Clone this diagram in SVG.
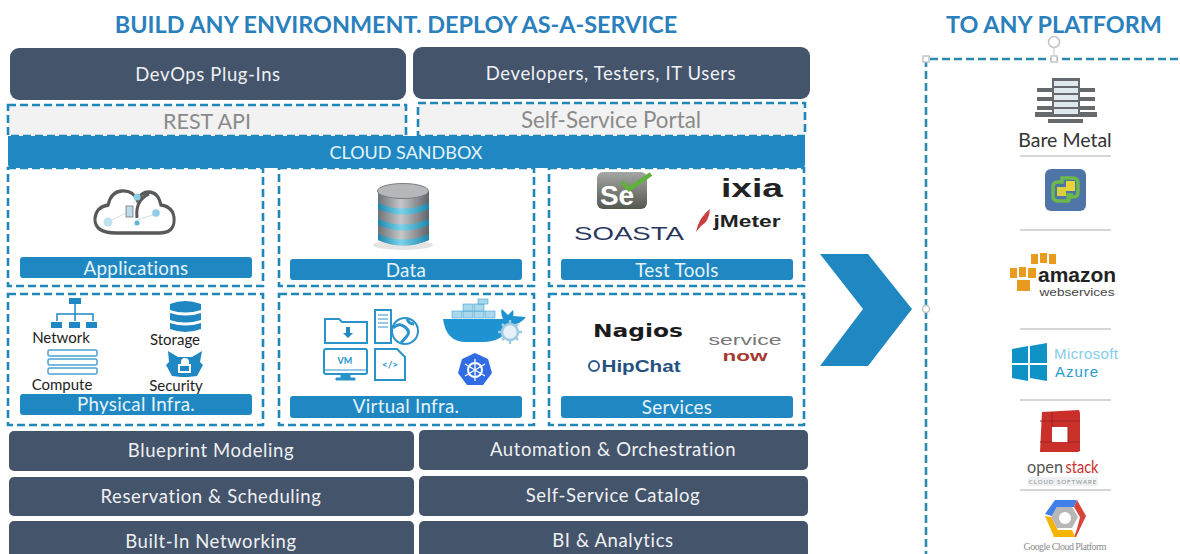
<svg xmlns="http://www.w3.org/2000/svg" width="1180" height="554" viewBox="0 0 1180 554">
<defs>
<linearGradient id="metal" x1="0" x2="1" y1="0" y2="0"><stop offset="0" stop-color="#6d7276"/><stop offset=".45" stop-color="#c4c7c9"/><stop offset="1" stop-color="#5f6468"/></linearGradient>
<linearGradient id="band" x1="0" x2="1" y1="0" y2="0"><stop offset="0" stop-color="#1d86ad"/><stop offset=".45" stop-color="#7bd3ea"/><stop offset="1" stop-color="#1d86ad"/></linearGradient>
<linearGradient id="sel" x1="0" x2="0" y1="0" y2="1"><stop offset="0" stop-color="#a3a6a2"/><stop offset="1" stop-color="#55584f"/></linearGradient>
</defs>
<style>
text{font-family:"Lato","Open Sans","Liberation Sans",sans-serif;text-anchor:middle}
text.ls{font-family:"Liberation Sans",Arial,sans-serif}
text.dv{font-family:"DejaVu Sans",sans-serif}
text.se{font-family:"Liberation Serif",serif}
text.st{text-anchor:start}
.dark{fill:#44546a}
.dt{fill:#eef0f3;font-size:18.5px;letter-spacing:.6px}
.blue{fill:#1f88c2}
.lt{fill:#e6f3fa;font-size:18.8px;letter-spacing:.3px}
.dash{fill:none;stroke:#1f88b8;stroke-width:2.6;stroke-dasharray:8 4}
.head{fill:#2a7fbd;font-weight:700;font-size:23.4px}
.k{fill:#1d1d1d;font-size:15px}
.ic{fill:#1f88c2}
.icl{fill:none;stroke:#2a93cc;stroke-width:2}
.rule{stroke:#c9c9c9;stroke-width:1.3}
.hd{fill:#fff;stroke:#c4c4c4;stroke-width:1.5}
</style>
<rect width="1180" height="554" fill="#fff"/>
<text class="head" x="396" y="33">BUILD ANY ENVIRONMENT. DEPLOY AS-A-SERVICE</text>
<text class="head" x="1054" y="33">TO ANY PLATFORM</text>

<g id="devops"><rect class="dark" x="10" y="48" width="396" height="52" rx="9"/><text class="dt" x="208" y="81">DevOps Plug-Ins</text></g>
<g id="users"><rect class="dark" x="413" y="47" width="397" height="52" rx="9"/><text class="dt" x="611" y="80">Developers, Testers, IT Users</text></g>
<g id="rest-api"><rect x="8" y="105" width="398" height="31" fill="#f2f2f2"/><rect class="dash" x="8" y="105" width="398" height="31"/><text x="207" y="129" fill="#8a8a8a" font-size="21.5">REST API</text></g>
<g id="portal"><rect x="418" y="103" width="387" height="33" fill="#f2f2f2"/><rect class="dash" x="418" y="103" width="387" height="33"/><text x="611" y="128" fill="#8a8a8a" font-size="22.4">Self-Service Portal</text></g>

<g id="applications">
<rect class="dash" x="8" y="168" width="255" height="118"/>
<path transform="translate(21 0) scale(.88 1)" d="M108 233h49q17 0 17-13 0-13-15-15-3-13-14-13-8 0-13 8-5-10-18-9-12 1-15 14-14 2-15 14 0 14 24 14z" fill="none" stroke="#58595b" stroke-width="3.400"/>
<path d="M137 218q-2-18 12-24" fill="none" stroke="#58595b" stroke-width="3"/>
<rect x="126" y="206" width="7" height="11" fill="#bcdcec" stroke="#777" stroke-width=".8"/>
<path d="M108 222l18-9M134 203l3-6M137 220l19-6" stroke="#c9d6dc" stroke-width=".8"/>
<circle cx="108" cy="222" r="4.500" fill="#bfe0ef"/><circle cx="156" cy="213" r="3.800" fill="#8fcde6"/><circle cx="137" cy="197" r="3.500" fill="#8fcde6"/><circle cx="137" cy="223" r="2.500" fill="#5fb6d3"/>
<rect class="blue" x="20" y="257" width="232" height="21" rx="3"/><text class="lt" x="136" y="275">Applications</text>
</g>
<g id="data">
<rect class="dash" x="279" y="168" width="255" height="118"/>
<ellipse cx="403" cy="245" rx="30" ry="5" fill="#e4e4e4"/>
<path d="M378 191v49q25 11 51 0v-49z" fill="url(#metal)"/>
<path d="M378 203q25 11 51 0v6q-25 11-51 0zM378 219q25 11 51 0v6q-25 11-51 0zM378 234q25 11 51 0v6q-25 11-51 0z" fill="url(#band)"/>
<ellipse cx="403" cy="191" rx="25.500" ry="7.500" fill="#b5b8bb" stroke="#7b7f83"/>
<rect class="blue" x="290" y="259" width="232" height="21" rx="3"/><text class="lt" x="406" y="277">Data</text>
</g>
<g id="test-tools">
<rect class="dash" x="549" y="168" width="255" height="118"/>
<rect x="597" y="172" width="50" height="37" rx="6" fill="url(#sel)"/>
<text class="ls" x="617" y="205" fill="#fff" font-size="28" font-weight="700">Se</text>
<path d="M622 182l7 7 22-15" fill="none" stroke="#5fb13c" stroke-width="4.500"/>
<text class="ls" x="752" y="197" fill="#222" font-size="26" font-weight="700" textLength="62" lengthAdjust="spacingAndGlyphs">ixia</text>
<text class="ls" x="629" y="240" fill="#27375e" font-size="18" textLength="110" lengthAdjust="spacingAndGlyphs">SOASTA</text>
<path d="M696 232q3-15 14-23-1 13-9 17z" fill="#c8403f"/>
<text class="ls" x="747" y="227" fill="#222" font-size="17" font-weight="700" textLength="67" lengthAdjust="spacingAndGlyphs">jMeter</text>
<rect class="blue" x="561" y="259" width="232" height="21" rx="3"/><text class="lt" x="677" y="277">Test Tools</text>
</g>
<g id="physical">
<rect class="dash" x="8" y="294" width="255" height="131"/>
<rect class="ic" x="69" y="298" width="12" height="6"/>
<path d="M75 304v10M57 321v-7h36v7M75 314v7" fill="none" stroke="#1f88c2" stroke-width="1.500"/>
<rect class="ic" x="51" y="322" width="11" height="6"/><rect class="ic" x="69" y="322" width="11" height="6"/><rect class="ic" x="86" y="322" width="11" height="6"/>
<text class="k" x="61" y="343">Network</text>
<path d="M170 304q15-6 31 0v6q-16 5-31 0zM170 313q16 5 31 0v7q-16 5-31 0zM170 323q16 5 31 0v6q-16 6-31 0z" class="ic"/>
<text class="k" x="175" y="345">Storage</text>
<g fill="#fff" stroke="#4aa3d2" stroke-width="1.500"><rect x="48" y="350" width="49" height="6" rx="1.500"/><rect x="48" y="359" width="49" height="6" rx="1.500"/><rect x="48" y="368" width="49" height="6" rx="1.500"/></g>
<text class="k" x="62" y="390">Compute</text>
<path d="M168 351l10 6h14l10-6-2 11 3 3-6 11-9 1h-7l-9-1-6-11 3-3z" class="ic"/><path d="M185 358a4 4 0 0 1 4 4v2h2v9h-13v-9h3v-2a4 4 0 0 1 4-4z" fill="#fff"/><rect x="180" y="366" width="9" height="5" class="ic"/>
<text class="k" x="176" y="391">Security</text>
<rect class="blue" x="20" y="394" width="232" height="21" rx="3"/><text class="lt" x="136" y="411">Physical Infra.</text>
</g>
<g id="virtual">
<rect class="dash" x="279" y="294" width="255" height="131"/>
<path class="icl" d="M325 343v-24h14l3 3h25v21z"/><path d="M346 327v6h-3l5 5 5-5h-3v-6z" class="ic"/>
<rect class="icl" x="375" y="310" width="16" height="33"/><path d="M378 315h10M378 319h10M378 323h10M378 327h10" stroke="#2a93cc"/>
<circle cx="405" cy="331" r="13" fill="#fff" stroke="#2a93cc" stroke-width="2"/><path d="M393 328q6-6 12-1t2 9l-6 7M407 319q2 5 7 5" fill="none" stroke="#2a93cc" stroke-width="3"/>
<rect class="icl" x="324" y="349" width="43" height="25" rx="2"/><path d="M324 370h43M341 375h9v3h5v2h-19v-2h5z" fill="#2a93cc" stroke="#2a93cc"/><text x="345" y="364" fill="#2a93cc" font-size="9" font-weight="700">VM</text>
<path class="icl" d="M375 349h22l8 8v23h-30z"/><text x="390" y="368" fill="#2a93cc" font-size="10" font-weight="700">&lt;/&gt;</text>
<g fill="#a9d7ec" stroke="#2a93cc" stroke-width=".5"><rect x="452" y="311" width="10" height="7"/><rect x="463" y="311" width="10" height="7"/><rect x="474" y="311" width="10" height="7"/><rect x="485" y="311" width="10" height="7"/><rect x="463" y="304" width="10" height="7"/><rect x="474" y="304" width="10" height="7"/><rect x="478" y="299" width="10" height="5"/></g>
<path d="M443 319h60q-3-7-1-10l6 6 5-5q1 4 0 6l13 1q-5 7-15 8-8 17-28 17h-17q-20 0-23-23z" fill="#1f93d2"/>
<g fill="#e6f1f7" stroke="#9ecbe3" stroke-width="2.500"><circle cx="510" cy="332" r="8"/><path d="M510 320v4M510 340v4M498 332h4M518 332h4M502 324l3 3M515 337l3 3M518 324l-3 3M505 337l-3 3" fill="none"/></g>
<path d="M475 353l13 6 4 14-9 12h-16l-9-12 4-14z" fill="#326ce5"/><circle cx="475" cy="370" r="7" fill="none" stroke="#fff" stroke-width="2"/><path d="M475 359v22M465 364l20 12M485 364l-20 12" stroke="#fff" stroke-width="1.300"/>
<rect class="blue" x="290" y="396" width="232" height="22" rx="3"/><text class="lt" x="406" y="413">Virtual Infra.</text>
</g>
<g id="services">
<rect class="dash" x="549" y="294" width="255" height="131"/>
<text class="dv" x="638" y="337" fill="#1b1b1b" font-size="18" font-weight="700" textLength="90" lengthAdjust="spacingAndGlyphs">Nagios</text>
<text class="ls" x="745" y="345" fill="#777" font-size="14" textLength="73" lengthAdjust="spacingAndGlyphs">service</text>
<text class="ls" x="745" y="361" fill="#a63a32" font-size="14" font-weight="700" textLength="45" lengthAdjust="spacingAndGlyphs">now</text>
<circle cx="594" cy="366" r="5" fill="none" stroke="#2a5a8c" stroke-width="2"/>
<text class="ls" x="641" y="372" fill="#24517f" font-size="16.500" font-weight="700" textLength="79" lengthAdjust="spacingAndGlyphs">HipChat</text>
<rect class="blue" x="561" y="396" width="232" height="22" rx="3"/><text class="lt" x="677" y="414">Services</text>
</g>
<g id="sandbox"><path class="blue" d="M8 136h797v28q0 4-4 4H12q-4 0-4-4z"/><text x="406" y="159" fill="#e6f3fa" font-size="18">CLOUD SANDBOX</text></g>

<g id="blueprint"><rect class="dark" x="9" y="431" width="405" height="40" rx="5"/><text class="dt" x="211" y="457">Blueprint Modeling</text></g>
<g id="automation"><rect class="dark" x="419" y="430" width="389" height="40" rx="5"/><text class="dt" x="613" y="456">Automation &amp; Orchestration</text></g>
<g id="reservation"><rect class="dark" x="9" y="477" width="405" height="39" rx="5"/><text class="dt" x="211" y="503">Reservation &amp; Scheduling</text></g>
<g id="catalog"><rect class="dark" x="419" y="476" width="389" height="40" rx="5"/><text class="dt" x="613" y="502">Self-Service Catalog</text></g>
<g id="networking"><rect class="dark" x="9" y="521" width="405" height="40" rx="5"/><text class="dt" x="211" y="548">Built-In Networking</text></g>
<g id="analytics"><rect class="dark" x="419" y="521" width="389" height="40" rx="5"/><text class="dt" x="613" y="547">BI &amp; Analytics</text></g>

<g id="connectors"><path class="blue" d="M820 254h48l44 55-44 57h-48l43-57z"/></g>

<g id="platforms">
<path d="M1190 59H926V560" fill="none" stroke="#2a8ab0" stroke-width="2.600" stroke-dasharray="8 4"/>
<path d="M1054 59V48" stroke="#c4c4c4"/><circle cx="1054" cy="42" r="5.500" fill="#fff" stroke="#c4c4c4" stroke-width="1.500"/>
<rect class="hd" x="923" y="56" width="6" height="6"/><rect class="hd" x="1051" y="56" width="6" height="6"/><circle class="hd" cx="926" cy="309" r="3.500"/>
<g id="bare-metal">
<g fill="#666a6e"><rect x="1037" y="88" width="15" height="4"/><rect x="1080" y="88" width="15" height="4"/><rect x="1037" y="97" width="15" height="4"/><rect x="1080" y="97" width="15" height="4"/><rect x="1037" y="106" width="15" height="4"/><rect x="1080" y="106" width="15" height="4"/><rect x="1035" y="112" width="62" height="5"/><rect x="1048" y="119" width="35" height="4"/><rect x="1052" y="78" width="28" height="38"/></g>
<g fill="#dfe8ec"><rect x="1054" y="81" width="24" height="5"/><rect x="1054" y="88" width="24" height="5"/><rect x="1054" y="95" width="24" height="5"/><rect x="1054" y="102" width="24" height="5"/><rect x="1054" y="109" width="24" height="5"/></g>
<text x="1065" y="147" fill="#333" font-size="19.500">Bare Metal</text>
</g>
<path class="rule" d="M1020 156h91M1020 230h91M1020 329h91M1020 400h91M1020 490h91"/>
<g id="vmware">
<rect x="1045" y="169" width="41" height="42" rx="6" fill="#4f74a8"/>
<path d="M1058 201h10v-6h5M1058 201q-5 0-5-5v-9q0-5 5-5h4v-4h11q5 0 5 5v9q0 5-5 5h-4v4" fill="none" stroke="#6cb84a" stroke-width="3.500"/>
<path d="M1066 181h9v10h-9z" fill="#e8d33a"/><path d="M1057 187h9v9h-9z" fill="#d9cf3f"/>
</g>
<g id="aws">
<g fill="#e99b1f"><rect x="1031" y="254" width="7" height="10"/><rect x="1040" y="253" width="7" height="10"/><rect x="1049" y="254" width="7" height="10"/><rect x="1010" y="268" width="7" height="10"/><rect x="1019" y="267" width="7" height="10"/><rect x="1028" y="268" width="8" height="10"/><rect x="1017" y="280" width="13" height="11"/></g>
<text class="ls" x="1077" y="282" fill="#222" font-size="21" font-weight="700" textLength="78" lengthAdjust="spacingAndGlyphs">amazon</text>
<text class="ls" x="1077" y="296" fill="#444" font-size="10.500" textLength="75" lengthAdjust="spacingAndGlyphs">webservices</text>
</g>
<g id="azure">
<path d="M1012 349l16-3v17h-16zM1030 346l17-3v20h-17zM1012 365h16v16l-16-3zM1030 365h17v16l-17-3z" fill="#0f93c6"/>
<text class="st ls" x="1054" y="359" fill="#84cdea" font-size="15" textLength="64" lengthAdjust="spacing">Microsoft</text>
<text class="st ls" x="1055" y="377" fill="#2a9bcf" font-size="15" textLength="43" lengthAdjust="spacing">Azure</text>
</g>
<g id="openstack">
<path fill-rule="evenodd" d="M1042 412l37-2 1 3v38l-2 1-38 0zM1052 427v15h16v-15z" fill="#c9302a"/>
<path d="M1040 421h40M1040 442h12M1068 442h12M1052 412v15M1068 427v15" stroke="#9d221d" stroke-width="1"/>
<text x="1045" y="473" fill="#555" font-size="18" textLength="36" lengthAdjust="spacingAndGlyphs">open</text>
<text x="1082" y="473" fill="#c9302a" font-size="18" textLength="33" lengthAdjust="spacingAndGlyphs">stack</text>
<rect x="1028" y="477" width="70" height="9" fill="#eef0f1"/>
<text x="1063" y="484" fill="#8a9094" font-size="6" letter-spacing="1">CLOUD SOFTWARE</text>
</g>
<g id="google">
<path d="M1055 500h22l-3 7h-17l-5 9-7-2z" fill="#3f7fe8"/><path d="M1077 500l9 16-10 21h-2l3-8 3-12-6-10z" fill="#d6453a"/><path d="M1045 516l9 21h21l-3-7h-14l-7-13z" fill="#f4b400"/><path d="M1057 507h15l6 10-6 11h-15l-6-11z" fill="#b7b7b7"/>
<circle cx="1065" cy="518" r="6" fill="#fff"/>
<text class="se" x="1065" y="550" fill="#8c8c8c" font-size="10" textLength="83" lengthAdjust="spacing">Google Cloud Platform</text>
</g>
</g>
</svg>
